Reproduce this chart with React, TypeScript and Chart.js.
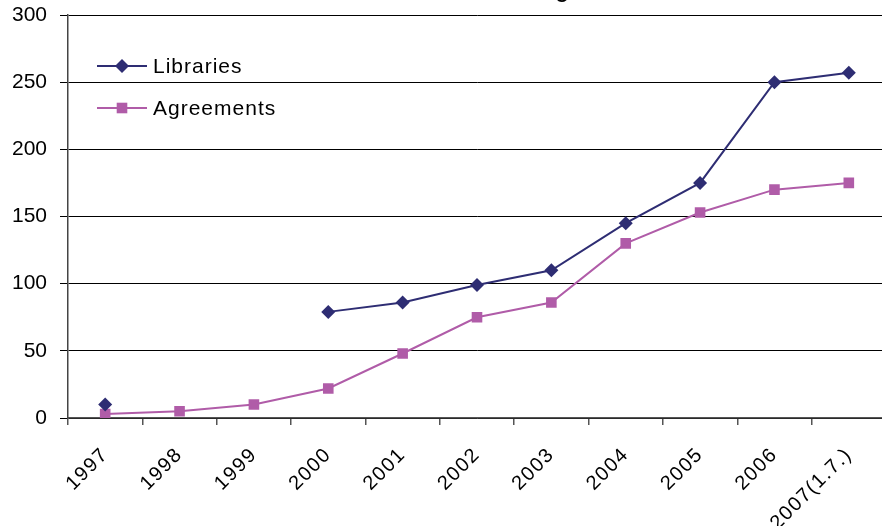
import React, { useEffect, useRef } from "react";
import { Chart, registerables } from "chart.js";

Chart.register(...registerables);

const titleText = "Number of Libraries and Agreements";
const categories = ["1997", "1998", "1999", "2000", "2001", "2002", "2003", "2004", "2005", "2006", "2007(1.7.)"];
const libraries: (number | null)[] = [10, null, null, 79, 86, 99, 110, 145, 175, 250, 257];
const agreements: number[] = [3, 5, 10, 22, 48, 75, 86, 130, 153, 170, 175];
const seriesNames = ["Libraries", "Agreements"];
const yMin = 0;
const yMax = 300;
const yStep = 50;

const FONT = "'Liberation Sans', Arial, Helvetica, sans-serif";

const insideLegend = {
  id: "insideLegend",
  afterDraw(chart: any) {
    const { ctx, chartArea } = chart;
    ctx.save();
    chart.data.datasets.forEach((ds: any, i: number) => {
      const y = chartArea.top + 51 + i * 42;
      const x0 = chartArea.left + 29;
      const x1 = chartArea.left + 79;
      ctx.strokeStyle = ds.borderColor;
      ctx.lineWidth = 2;
      ctx.beginPath();
      ctx.moveTo(x0, y);
      ctx.lineTo(x1, y);
      ctx.stroke();
      ctx.fillStyle = ds.pointBackgroundColor;
      const cx = (x0 + x1) / 2;
      ctx.beginPath();
      if (ds.pointStyle === "rectRot") {
        const r = ds.pointRadius;
        ctx.moveTo(cx, y - r);
        ctx.lineTo(cx + r, y);
        ctx.lineTo(cx, y + r);
        ctx.lineTo(cx - r, y);
        ctx.closePath();
      } else {
        const s = ds.pointRadius * Math.SQRT1_2;
        ctx.rect(cx - s, y - s, 2 * s, 2 * s);
      }
      ctx.fill();
      ctx.font = `21px ${FONT}`;
      (ctx as any).letterSpacing = "1px";
      ctx.fillStyle = "#000";
      ctx.textBaseline = "middle";
      ctx.textAlign = "left";
      ctx.fillText(ds.label, x1 + 6, y + 1);
    });
    ctx.restore();
  },
};

export default function App() {
  const ref = useRef<HTMLCanvasElement | null>(null);

  useEffect(() => {
    if (!ref.current) return;
    const chart = new Chart(ref.current, {
      type: "line",
      data: {
        labels: categories,
        datasets: [
          {
            label: seriesNames[0],
            data: libraries,
            borderColor: "#2E2D73",
            backgroundColor: "#2E2D73",
            pointBackgroundColor: "#2E2D73",
            pointBorderColor: "#2E2D73",
            pointStyle: "rectRot",
            pointRadius: 7,
            pointBorderWidth: 0,
            borderWidth: 2,
            tension: 0,
            spanGaps: false,
          } as any,
          {
            label: seriesNames[1],
            data: agreements,
            borderColor: "#B05CA8",
            backgroundColor: "#B05CA8",
            pointBackgroundColor: "#B05CA8",
            pointBorderColor: "#B05CA8",
            pointStyle: "rect",
            pointRadius: 7.5,
            pointBorderWidth: 0,
            borderWidth: 2,
            tension: 0,
          } as any,
        ],
      },
      options: {
        animation: false,
        responsive: false,
        layout: { padding: { left: 0, right: 34, top: 0, bottom: 0 } },
        plugins: {
          legend: { display: false },
          tooltip: { enabled: false },
          title: {
            display: true,
            fullSize: false,
            text: titleText,
            color: "#000",
            font: { family: FONT, size: 21, weight: "bold" },
            padding: { top: 9.4, bottom: 10.4 },
          },
        },
        scales: {
          x: {
            type: "category",
            offset: true,
            grid: {
              offset: true,
              drawOnChartArea: false,
              drawTicks: true,
              tickLength: 7,
              color: "#555",
              lineWidth: 1.5,
            },
            border: { color: "#555", width: 1.5 },
            ticks: {
              color: "#000",
              font: { family: FONT, size: 20 },
              maxRotation: 45,
              minRotation: 45,
              autoSkip: false,
              padding: 18,
            },
            afterFit(scale: any) {
              scale.height = 122;
              if (!scale._spaced) {
                const orig = scale.drawLabels.bind(scale);
                scale.drawLabels = (area: any) => {
                  const c = scale.ctx;
                  c.save();
                  c.letterSpacing = "1.5px";
                  orig(area);
                  c.restore();
                };
                scale._spaced = true;
              }
            },
          },
          y: {
            min: yMin,
            max: yMax,
            grid: {
              color: "#000",
              lineWidth: 1,
              drawTicks: true,
              tickLength: 8,
            },
            border: { color: "#444", width: 1.5 },
            ticks: {
              stepSize: yStep,
              color: "#000",
              font: { family: FONT, size: 21 },
              padding: 13,
            },
            afterFit(scale: any) {
              scale.width = 68;
            },
          },
        },
      },
      plugins: [insideLegend],
    });
    return () => chart.destroy();
  }, []);

  return (
    <div
      style={{
        position: "fixed",
        left: 0,
        top: 0,
        width: 882,
        height: 526,
        overflow: "hidden",
        background: "#fff",
      }}
    >
      <div style={{ position: "absolute", left: 0, top: -30, width: 920, height: 570 }}>
        <canvas ref={ref} width={920} height={570} style={{ width: 920, height: 570 }} />
      </div>
    </div>
  );
}
